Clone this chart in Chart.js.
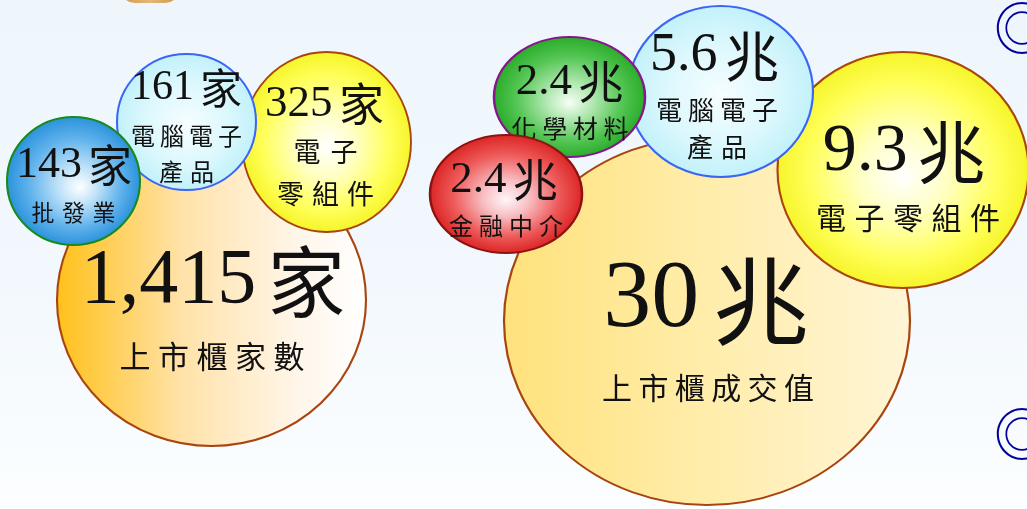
<!DOCTYPE html>
<html>
<head>
<meta charset="utf-8">
<script src="https://cdn.jsdelivr.net/npm/chart.js@4.4.1/dist/chart.umd.min.js"></script>
<style>
html,body{margin:0;padding:0;width:1027px;height:509px;overflow:hidden;}
body{position:relative;background:linear-gradient(180deg,#eef6fc 0%,#f2f8fd 55%,#fcfeff 100%);}
#wrap{position:absolute;left:0;top:0;width:1027px;height:509px;}
#tab{position:absolute;left:120px;top:-12px;width:60px;height:15px;border-radius:0 0 22px 22px;background:linear-gradient(90deg,#cf9446,#e4b878 50%,#cf9446);}
.mark{position:absolute;color:#00009c;font-size:56px;line-height:1;font-family:'Noto Sans CJK TC',sans-serif;}
</style>
</head>
<body>
<div id="tab"></div>
<div id="wrap"><canvas id="c" width="1027" height="509"></canvas></div>
<span class="mark" style="left:994px;top:-3px">◎</span>
<span class="mark" style="left:994px;top:403px">◎</span>
<script>
// ---------------- data ----------------
const countCategories = ['上市櫃家數', '電子零組件', '電腦電子產品', '批發業'];
const countValues = [1415, 325, 161, 143];
const countUnit = '家';

const tradeCategories = ['上市櫃成交值', '電子零組件', '電腦電子產品', '化學材料', '金融中介'];
const tradeValues = [30, 9.3, 5.6, 2.4, 2.4];
const tradeUnit = '兆';

// ---------------- layout / style (chart units = px) ----------------
const LAYOUT = [
  {g:'count', i:0, cx:211.5, cy:300, rx:154.5, ry:146, fill:'orange', border:'#a8450f',
   val:{fs:78, dx:1.5, dy:-18}, name:{split:[5], fs:31, pitch:38.5, dx:0.5, dy:[56]}},
  {g:'count', i:1, cx:326.5, cy:142, rx:84.5, ry:90, fill:'yellow', border:'#a8450f',
   val:{fs:45, dx:-2, dy:-38}, name:{split:[2,3], fs:27, pitch:[37,35], dx:-1, dy:[10,52]}},
  {g:'count', i:2, cx:186.5, cy:122, rx:69.5, ry:68, fill:'cyan', border:'#3a66f5',
   val:{fs:42, dx:0, dy:-34}, name:{split:[4,2], fs:24, pitch:[29,31], dx:0, dy:[14,50]}},
  {g:'count', i:3, cx:73.5, cy:181, rx:66.5, ry:64, fill:'blue', border:'#178a1c',
   val:{fs:44, dx:0.5, dy:-16}, name:{split:[3], fs:23, pitch:30.5, dx:0, dy:[31]}},

  {g:'trade', i:0, cx:707, cy:321, rx:203, ry:184, fill:'cream', border:'#a8450f',
   val:{fs:96, dx:-1, dy:-20}, name:{split:[6], fs:30, pitch:36.4, dx:1, dy:[67]}},
  {g:'trade', i:1, cx:903, cy:170, rx:125.5, ry:118, fill:'yellow', border:'#a8450f',
   val:{fs:68, dx:1, dy:-18}, name:{split:[5], fs:30, pitch:38.5, dx:5, dy:[48]}},
  {g:'trade', i:2, cx:720.5, cy:91.5, rx:92.5, ry:85.5, fill:'cyan', border:'#3a66f5',
   val:{fs:54, dx:-6, dy:-35.5}, name:{split:[4,2], fs:26, pitch:[32,34], dx:-3.5, dy:[18.5,55.5]}},
  {g:'trade', i:3, cx:569.5, cy:97, rx:75.5, ry:60, fill:'green', border:'#86168a',
   val:{fs:45, dx:0, dy:-15}, name:{split:[4], fs:25, pitch:30.7, dx:0.5, dy:[31]}},
  {g:'trade', i:4, cx:506, cy:194, rx:76, ry:59, fill:'red', border:'#8e1212',
   val:{fs:45, dx:-2, dy:-14}, name:{split:[4], fs:24, pitch:30, dx:0, dy:[32]}}
];

const RADIAL = {
  yellow: {o:[0,0.05], stops:[[0,'#ffffff'],[0.35,'#ffffc4'],[0.75,'#ffff5a'],[1,'#f6f52a']]},
  cyan:   {o:[0,0.05], stops:[[0,'#f6fdff'],[0.6,'#dcf8fd'],[1,'#c2f1fa']]},
  blue:   {o:[0.1,0.1], stops:[[0,'#ffffff'],[0.3,'#bfe2f8'],[0.7,'#5fb2ec'],[1,'#2c93dc']]},
  green:  {o:[0,0.1], stops:[[0,'#f6fff6'],[0.3,'#b4e8b4'],[0.7,'#55c655'],[1,'#2aad2a']]},
  red:    {o:[0,0.1], stops:[[0,'#fff6fa'],[0.3,'#f8c0c4'],[0.7,'#ee5a5a'],[1,'#dc2626']]}
};
const LINEAR = {
  orange: [[0,'#ffc11a'],[0.4,'#ffe2a8'],[0.78,'#fff6ea'],[1,'#ffffff']],
  cream:  [[0,'#ffe27c'],[0.5,'#ffedab'],[1,'#fff5d6']]
};

function numberText(L){
  if (L.g === 'count') return countValues[L.i].toLocaleString('en-US');
  return String(tradeValues[L.i]);
}
function unitText(L){ return L.g === 'count' ? countUnit : tradeUnit; }
function nameText(L){
  return L.g === 'count' ? countCategories[L.i] : tradeCategories[L.i];
}

function makeFill(ctx, L, px, py, r){
  if (![px, py, r].every(Number.isFinite)) return '#ffffff';
  let g;
  if (LINEAR[L.fill]) {
    g = ctx.createLinearGradient(px - r, 0, px + r, 0);
    LINEAR[L.fill].forEach(s => g.addColorStop(s[0], s[1]));
  } else {
    const d = RADIAL[L.fill];
    g = ctx.createRadialGradient(px + d.o[0]*r, py + d.o[1]*r, 0, px, py, r);
    d.stops.forEach(s => g.addColorStop(s[0], s[1]));
  }
  return g;
}

function drawLabels(ctx, L, x, y){
  ctx.save();
  ctx.fillStyle = '#111111';
  ctx.textBaseline = 'middle';
  // value: number (serif) + gap + unit
  const fs = L.val.fs;
  const numFont = fs + "px 'Liberation Serif',serif";
  const unitFont = fs + "px 'Noto Sans CJK TC',sans-serif";
  ctx.font = numFont;
  const num = numberText(L);
  const wn = ctx.measureText(num).width;
  ctx.font = unitFont;
  const un = unitText(L);
  const wu = ctx.measureText(un).width;
  const gap = fs * 0.14;
  const total = wn + gap + wu;
  let left = x + L.val.dx - total / 2;
  ctx.textAlign = 'left';
  ctx.font = numFont;
  ctx.fillText(num, left, y + L.val.dy);
  ctx.font = unitFont;
  ctx.fillText(un, left + wn + gap, y + L.val.dy);
  // category name, char by char
  ctx.textAlign = 'center';
  const chars = Array.from(nameText(L));
  ctx.font = L.name.fs + "px 'Noto Sans CJK TC',sans-serif";
  let k = 0;
  L.name.split.forEach((n, li) => {
    const line = chars.slice(k, k + n); k += n;
    const pitch = Array.isArray(L.name.pitch) ? L.name.pitch[li] : L.name.pitch;
    line.forEach((ch, j) => {
      ctx.fillText(ch, x + L.name.dx + (j - (n - 1) / 2) * pitch, y + L.name.dy[li]);
    });
  });
  ctx.restore();
}

const ellipsePlugin = {
  id: 'ellipseBubbles',
  beforeDatasetDraw(chart, args){
    const ds = chart.data.datasets[args.index];
    const el = args.meta.data[0];
    const ctx = chart.ctx;
    const fill = makeFill(ctx, LAYOUT[args.index], el.x, el.y, el.options.radius);
    try { el.options.backgroundColor = fill; } catch (e) {}
    ctx.save();
    ctx.translate(el.x, el.y);
    ctx.scale(ds.sx, 1);
    ctx.translate(-el.x, -el.y);
  },
  afterDatasetDraw(chart, args){
    const ctx = chart.ctx;
    ctx.restore();
    const el = args.meta.data[0];
    drawLabels(ctx, LAYOUT[args.index], el.x, el.y);
  }
};

const datasets = LAYOUT.map((L, idx) => ({
  label: nameText(L),
  data: [{x: L.cx, y: L.cy, r: L.ry}],
  sx: L.rx / L.ry,
  order: LAYOUT.length - idx,
  backgroundColor: '#ffffff',
  borderColor: L.border,
  borderWidth: 2,
  hoverBorderWidth: 2,
  clip: false
}));

new Chart(document.getElementById('c'), {
  type: 'bubble',
  data: { datasets },
  options: {
    responsive: false,
    animation: false,
    events: [],
    layout: { padding: 0, autoPadding: false },
    plugins: { legend: { display: false }, tooltip: { enabled: false } },
    scales: {
      x: { type: 'linear', min: 0, max: 1027, display: false },
      y: { type: 'linear', min: 0, max: 509, reverse: true, display: false }
    }
  },
  plugins: [ellipsePlugin]
});
</script>
</body>
</html>
